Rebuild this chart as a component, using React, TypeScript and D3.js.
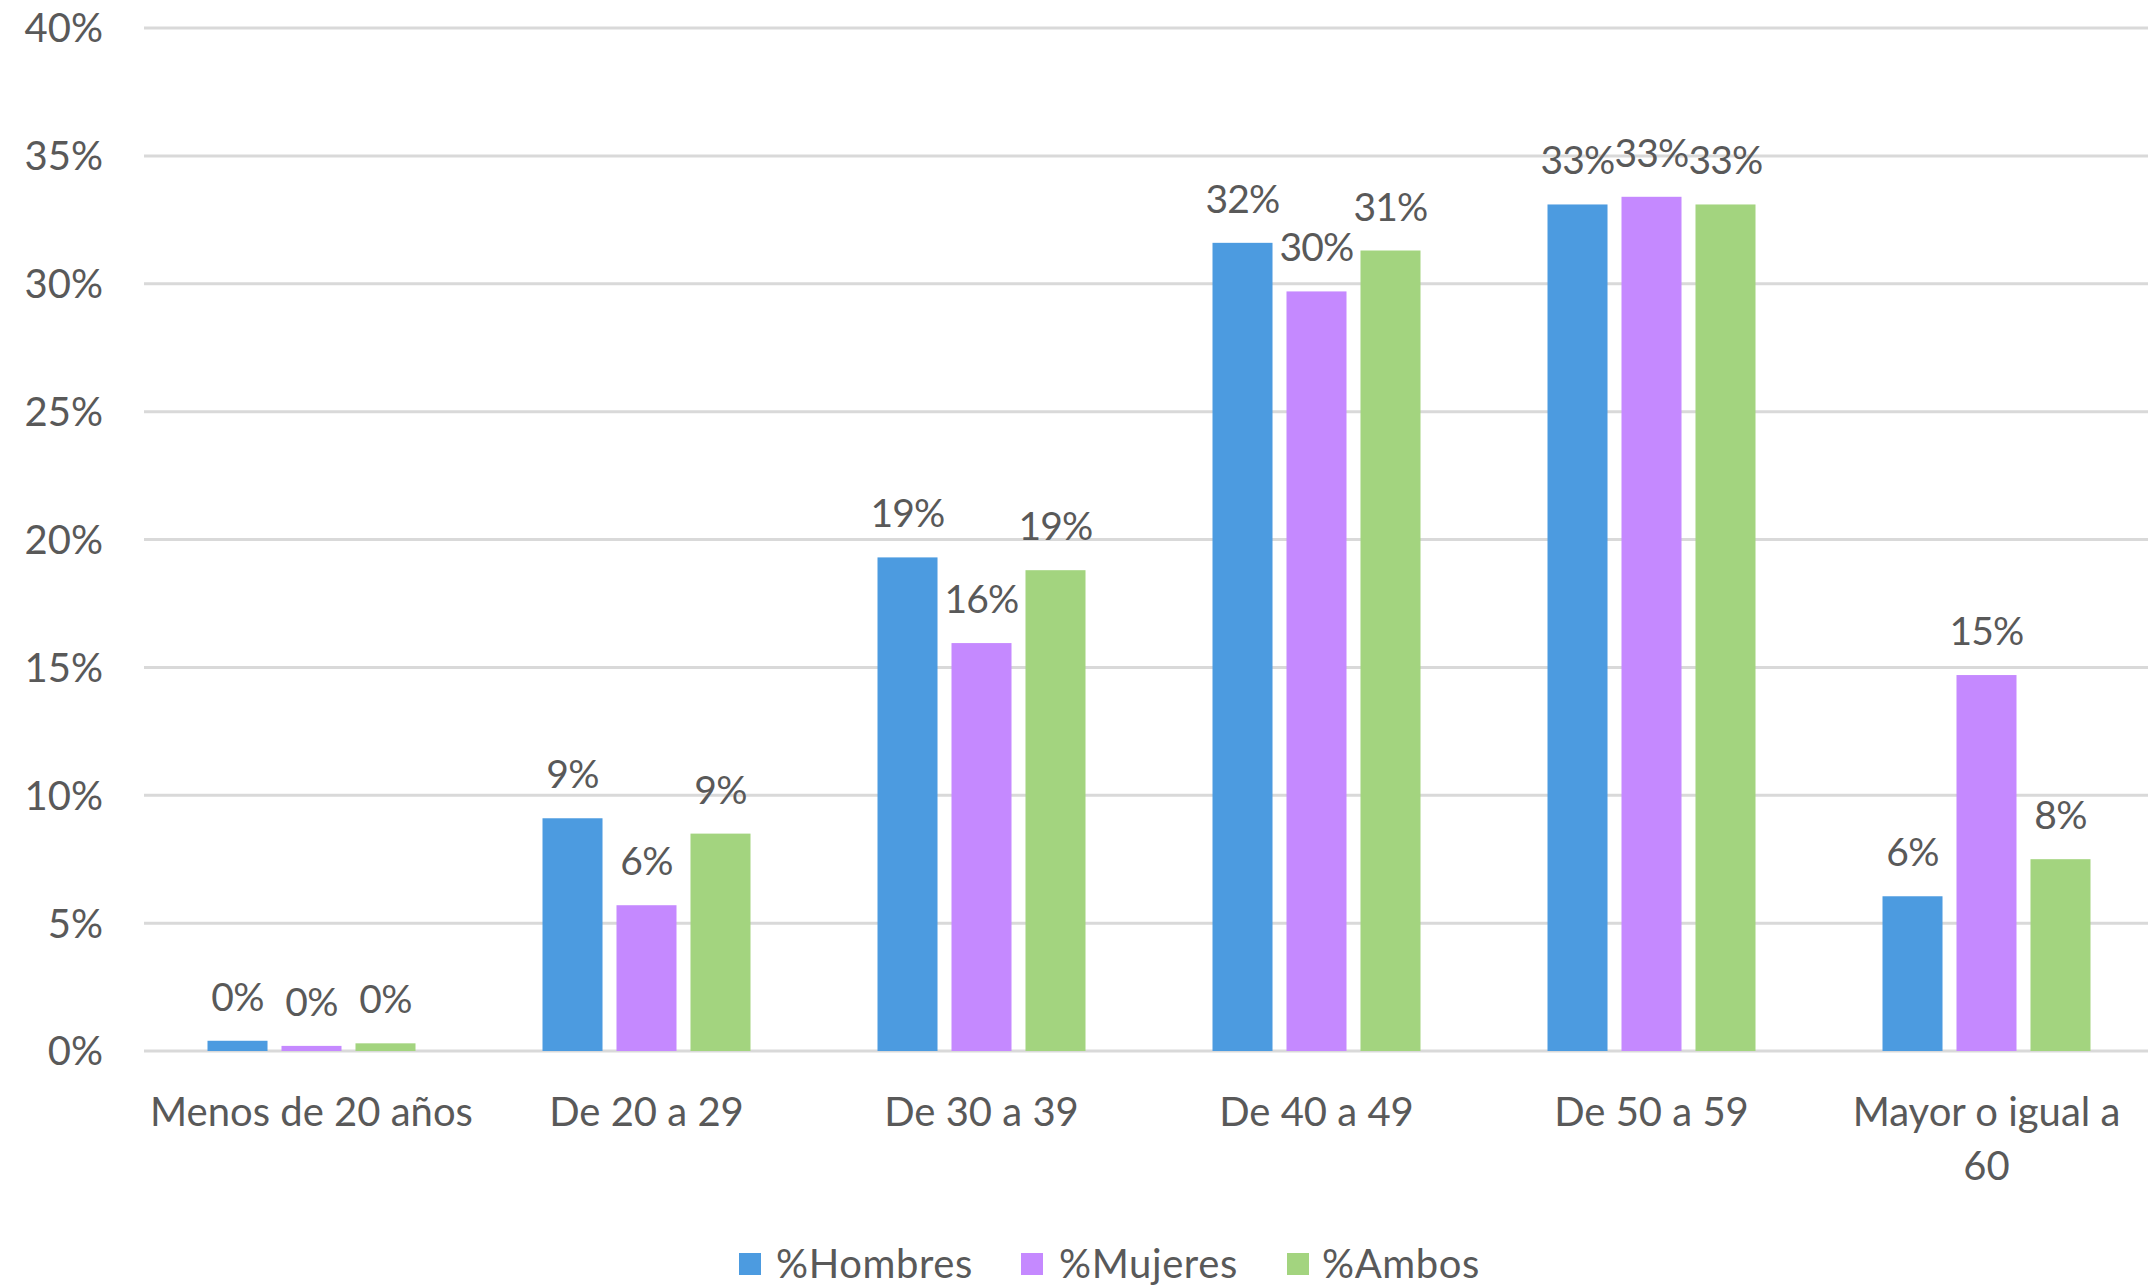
import React from "react";
import * as d3 from "d3";

const categories = ["Menos de 20 años", "De 20 a 29", "De 30 a 39", "De 40 a 49", "De 50 a 59", "Mayor o igual a 60"];
const tickLabelLines = [["Menos de 20 años"], ["De 20 a 29"], ["De 30 a 39"], ["De 40 a 49"], ["De 50 a 59"], ["Mayor o igual a", "60"]];
const seriesNames = ["%Hombres", "%Mujeres", "%Ambos"];
const hombres = [0.4, 9.1, 19.3, 31.6, 33.1, 6.05];
const mujeres = [0.2, 5.7, 15.95, 29.7, 33.4, 14.7];
const ambos = [0.3, 8.5, 18.8, 31.3, 33.1, 7.5];
const yTicks = [0, 5, 10, 15, 20, 25, 30, 35, 40];
const colors = ["#4C9BE0", "#C589FF", "#A3D47F"];

const W = 2148;
const H = 1286;
const FONT = "Lato, 'Open Sans', sans-serif";
const TEXT = "#595959";

export default function App() {
  const seriesValues = [hombres, mujeres, ambos];
  const y = d3.scaleLinear().domain([0, 40]).range([1051, 28]);
  const x = d3.scaleBand<string>().domain(categories).range([144, 2154]).paddingInner(0).paddingOuter(0);
  const inner = d3.scaleBand<string>().domain(seriesNames).range([0, 208]).paddingInner(0.189).paddingOuter(0);
  const groupStart = (c: string) => (x(c) as number) + x.bandwidth() / 2 - 104;

  const legendItems = [
    { name: seriesNames[0], sx: 739, tx: 776 },
    { name: seriesNames[1], sx: 1021, tx: 1059 },
    { name: seriesNames[2], sx: 1287, tx: 1322 },
  ];

  return (
    <svg width={W} height={H} style={{ position: "absolute", left: 0, top: 0, background: "#fff" }} fontFamily={FONT}>
      <rect x={0} y={0} width={W} height={H} fill="#fff" />
      {yTicks.map((t) => (
        <g key={t}>
          <line x1={144} x2={2148} y1={y(t)} y2={y(t)} stroke="#D9D9D9" strokeWidth={3} />
          <text x={103} y={y(t)} dy="0.36em" textAnchor="end" fontSize={40} fill={TEXT}>
            {t}%
          </text>
        </g>
      ))}
      {seriesValues.map((vals, si) =>
        categories.map((c, ci) => {
          const bx = groupStart(c) + (inner(seriesNames[si]) as number);
          const by = y(vals[ci]);
          return (
            <g key={`${si}-${ci}`}>
              <rect x={bx} y={by} width={inner.bandwidth()} height={y(0) - by} fill={colors[si]} />
              <text x={bx + inner.bandwidth() / 2} y={by - 30} textAnchor="middle" fontSize={39} letterSpacing={-0.8} fill={TEXT}>
                {Math.round(vals[ci])}%
              </text>
            </g>
          );
        })
      )}
      {categories.map((c, ci) => (
        <text key={c} x={(x(c) as number) + x.bandwidth() / 2} y={1126} textAnchor="middle" fontSize={40} fill={TEXT}>
          {tickLabelLines[ci].map((line, li) => (
            <tspan key={li} x={(x(c) as number) + x.bandwidth() / 2} dy={li === 0 ? 0 : 54}>
              {line}
            </tspan>
          ))}
        </text>
      ))}
      {legendItems.map((it, i) => (
        <g key={it.name}>
          <rect x={it.sx} y={1253} width={22} height={22} fill={colors[i]} />
          <text x={it.tx} y={1278} fontSize={40} letterSpacing={0.6} fill={TEXT}>
            {it.name}
          </text>
        </g>
      ))}
    </svg>
  );
}
